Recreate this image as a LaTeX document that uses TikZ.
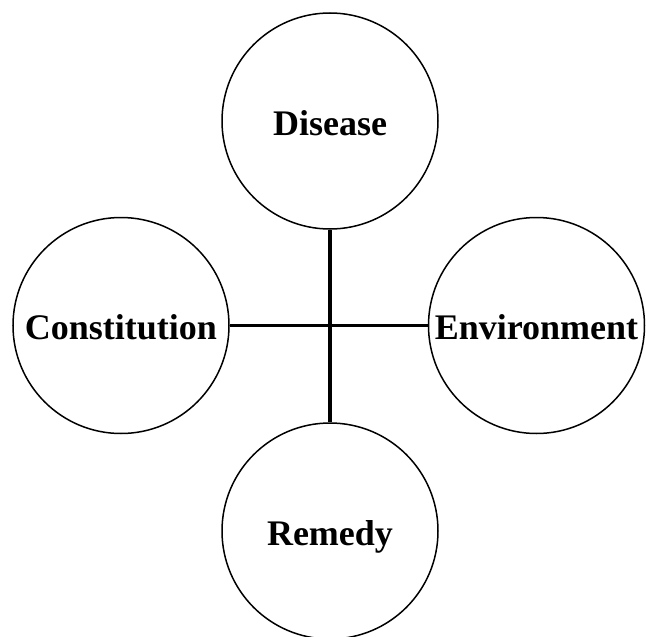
\documentclass[tikz,border=0pt]{standalone}
\usepackage{fontspec}
\setmainfont{Liberation Serif}
\begin{document}
\begin{tikzpicture}[x=1pt,y=-1pt,
  topic/.style={circle,draw=black,line width=1.5pt,fill=white,inner sep=0pt,
    minimum size=216pt,font=\fontsize{36}{40}\selectfont\bfseries,
    text height=28pt,text depth=0pt},
  link/.style={draw=black,line width=3.3pt}]
\fill[white] (0,0) rectangle (646,637);
\useasboundingbox (0,0) rectangle (646,637);
\node[topic] (dis) at (330,121) {Disease};
\node[topic] (con) at (121,325.5) {Constitution};
\node[topic] (env) at (536.5,325.5) {Environment};
\node[topic] (rem) at (330,531) {Remedy};
\draw[link] (dis) -- (rem);
\draw[link] (con) -- (env);
\end{tikzpicture}
\end{document}
